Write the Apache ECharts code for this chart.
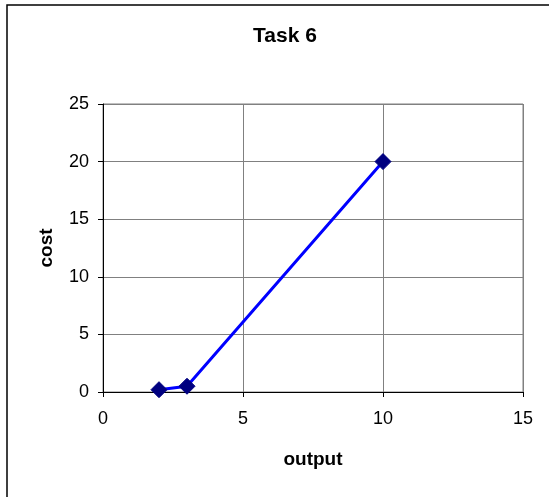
<!DOCTYPE html>
<html><head><meta charset="utf-8">
<script src="https://cdn.jsdelivr.net/npm/echarts@6/dist/echarts.min.js"></script>
<style>html,body{margin:0;padding:0;background:#fff}#c{width:549px;height:497px}</style>
</head><body><div id="c"></div>
<script>
const titleText = 'Task 6';
const xName = 'output';
const yName = 'cost';
const outputValues = [2, 3, 10];
const costValues = [0.2, 0.5, 20];

const chart = echarts.init(document.getElementById('c'), null, {renderer: 'canvas'});
const font = 'Liberation Sans, Arial, sans-serif';
chart.setOption({
  animation: false,
  backgroundColor: '#fff',
  graphic: [{
    type: 'rect', z: -1, silent: true,
    shape: {x: 7, y: 5, width: 700, height: 700},
    style: {fill: 'none', stroke: '#000', lineWidth: 1.5}
  }],
  title: {
    text: titleText, left: 248, top: 21,
    textStyle: {fontFamily: font, fontSize: 21, fontWeight: 'bold', color: '#000'}
  },
  grid: {left: 103, top: 104, width: 420, height: 288, show: true, borderColor: '#808080', borderWidth: 1},
  xAxis: {
    type: 'value', min: 0, max: 15, interval: 5,
    name: xName, nameLocation: 'middle', nameGap: 58,
    nameTextStyle: {fontFamily: font, fontSize: 19, fontWeight: 'bold', color: '#000'},
    axisLine: {show: true, onZero: false, lineStyle: {color: '#000', width: 1}},
    axisTick: {show: true, inside: false, length: 5, lineStyle: {color: '#000'}},
    axisLabel: {fontFamily: font, fontSize: 18, color: '#000', margin: 18},
    splitLine: {show: true, lineStyle: {color: '#808080', width: 1}}
  },
  yAxis: {
    type: 'value', min: 0, max: 25, interval: 5,
    name: yName, nameLocation: 'middle', nameGap: 47, nameRotate: 90,
    nameTextStyle: {fontFamily: font, fontSize: 19, fontWeight: 'bold', color: '#000'},
    axisLine: {show: true, onZero: false, lineStyle: {color: '#000', width: 1}},
    axisTick: {show: true, inside: false, length: 5, lineStyle: {color: '#000'}},
    axisLabel: {fontFamily: font, fontSize: 18, color: '#000', margin: 14},
    splitLine: {show: true, lineStyle: {color: '#808080', width: 1}}
  },
  series: [{
    type: 'line',
    data: outputValues.map((x, i) => [x, costValues[i]]),
    lineStyle: {color: '#0000ff', width: 3},
    symbol: 'diamond', symbolSize: 16,
    itemStyle: {color: '#000080', borderColor: '#000080'},
    z: 5
  }]
});
</script></body></html>
